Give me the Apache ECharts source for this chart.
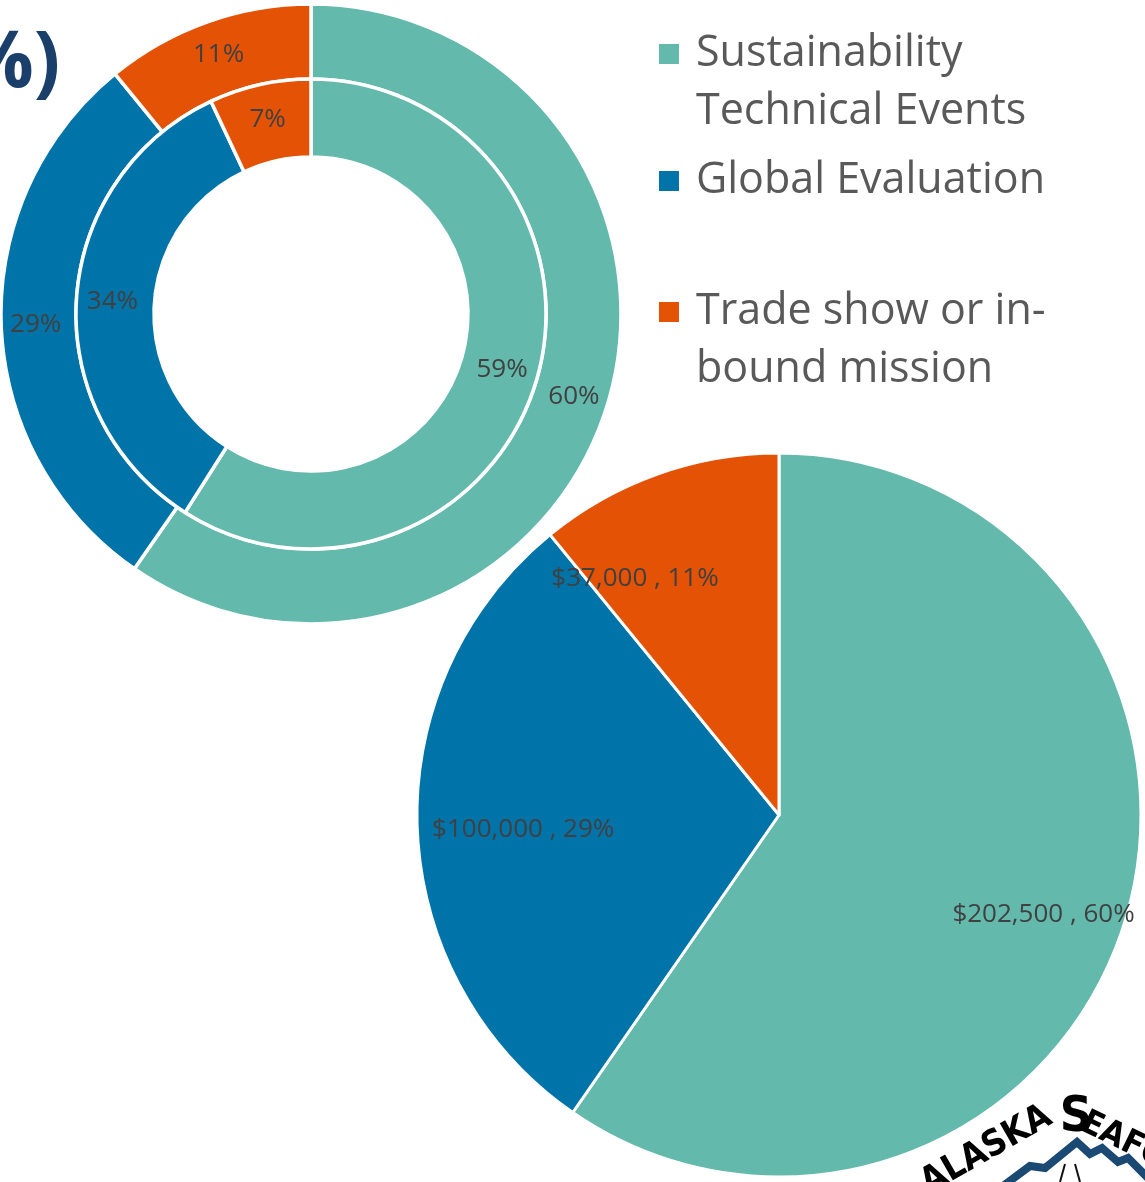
<!DOCTYPE html>
<html>
<head>
<meta charset="utf-8">
<script src="https://cdn.jsdelivr.net/npm/echarts@6/dist/echarts.min.js"></script>
<style>
  html, body { margin: 0; padding: 0; background: #ffffff; }
  #chart { width: 1145px; height: 1182px; }
</style>
</head>
<body>
<div id="chart"></div>
<script>
// Budget categories and their wrapped legend text
const categories = ['Sustainability Technical Events', 'Global Evaluation', 'Trade show or in-bound mission'];
const legendLabels = ['Sustainability\nTechnical Events', 'Global Evaluation', 'Trade show or in-\nbound mission'];
// Dollar amounts (outer ring and the large pie)
const budgetDollars = [202500, 100000, 37000];
// Share of the inner ring, in percent
const innerRingPercent = [59, 34, 7];
const sliceColors = ['#64B9AD', '#0073A9', '#E35205'];

const FONT = 'Open Sans';
const LABEL_COLOR = '#404040';

function toData(values) {
  return values.map((v, i) => ({ name: categories[i], value: v, itemStyle: { color: sliceColors[i] } }));
}

const pctLabel = {
  show: true,
  position: 'inside',
  formatter: p => Math.round(p.percent) + '%',
  color: LABEL_COLOR,
  fontFamily: FONT,
  fontSize: 26
};

const ringBorder = { borderColor: '#ffffff', borderWidth: 3.5 };
const pieBorder = { borderColor: '#ffffff', borderWidth: 3 };

// Legend square aligned with the first text line, followed by a wide gap
const iconTwoLine = 'path://M0,18h22v22h-22z M0,0h0.01v0.01z M33,116h0.01v0.01z';
const iconOneLine = 'path://M0,0h22v22h-22z M33,22h0.01v0.01z';

function legendFor(idx, top, twoLine) {
  return {
    data: [{ name: categories[idx], icon: twoLine ? iconTwoLine : iconOneLine }],
    orient: 'vertical',
    left: 657,
    top: top,
    padding: 0,
    itemWidth: 33,
    itemHeight: twoLine ? 116 : 22,
    formatter: name => legendLabels[categories.indexOf(name)],
    textStyle: { fontFamily: FONT, fontSize: 43, color: '#595959', lineHeight: 58 }
  };
}

// Labels for the large pie: same values, no fill of their own
const labelNudges = [[3, 18], [18, 4], [-52, 22]];
const bigPieLabels = budgetDollars.map((v, i) => ({
  name: categories[i],
  value: v,
  label: { offset: labelNudges[i] }
}));

const option = {
  animation: false,
  title: {
    text: '(%)',
    left: -63,
    top: 26,
    padding: 0,
    textStyle: { fontFamily: FONT, fontSize: 78, fontWeight: 'bold', color: '#1B3F6B' }
  },
  legend: [
    legendFor(0, 24, true),
    legendFor(1, 152, false),
    legendFor(2, 282, true)
  ],
  series: [
    {
      name: 'Outer ring',
      type: 'pie',
      center: [311, 314],
      radius: [235, 310],
      startAngle: 90,
      clockwise: true,
      data: toData(budgetDollars),
      itemStyle: ringBorder,
      label: pctLabel,
      labelLine: { show: false },
      emphasis: { disabled: true }
    },
    {
      name: 'Inner ring',
      type: 'pie',
      center: [311, 314],
      radius: [157, 235],
      startAngle: 90,
      clockwise: true,
      data: toData(innerRingPercent),
      itemStyle: ringBorder,
      label: pctLabel,
      labelLine: { show: false },
      emphasis: { disabled: true }
    },
    {
      name: 'Budget',
      type: 'pie',
      center: [779, 815],
      radius: [0, 362],
      startAngle: 90,
      clockwise: true,
      data: toData(budgetDollars),
      itemStyle: pieBorder,
      label: { show: false },
      labelLine: { show: false },
      emphasis: { disabled: true }
    },
    {
      // Value labels for the large pie, placed at three quarters of its radius
      name: 'Budget labels',
      type: 'pie',
      center: [779, 815],
      radius: [180, 362],
      startAngle: 90,
      clockwise: true,
      silent: true,
      z: 5,
      data: bigPieLabels,
      itemStyle: { color: 'rgba(0,0,0,0)', borderWidth: 0 },
      label: {
        show: true,
        position: 'inside',
        formatter: p => '$' + p.value.toLocaleString('en-US') + ' , ' + Math.round(p.percent) + '%',
        color: LABEL_COLOR,
        fontFamily: FONT,
        fontSize: 26
      },
      labelLine: { show: false },
      emphasis: { disabled: true }
    }
  ],
  graphic: [
    {
      type: 'polyline',
      shape: { points: [[995, 1192], [1030, 1166], [1045, 1168], [1077, 1142], [1090, 1154], [1102, 1148], [1118, 1162], [1128, 1158], [1150, 1180]] },
      style: { stroke: '#1A4A73', lineWidth: 8, fill: null, lineJoin: 'miter' }
    },
    {
      type: 'polyline',
      shape: { points: [[1060, 1182], [1065, 1164]] },
      style: { stroke: '#111111', lineWidth: 2, fill: null }
    },
    {
      type: 'polyline',
      shape: { points: [[1080, 1182], [1075, 1164]] },
      style: { stroke: '#111111', lineWidth: 2, fill: null }
    },
    {
      type: 'text',
      x: 1058, y: 1130,
      rotation: 0.52,
      style: { text: 'ALASKA', align: 'right', verticalAlign: 'bottom', font: 'bold 36px "DejaVu Sans Condensed"', fill: '#000000' }
    },
    {
      type: 'text',
      x: 1076, y: 1143,
      style: { text: 'S', align: 'center', verticalAlign: 'bottom', font: 'bold 50px "DejaVu Sans Condensed"', fill: '#000000' }
    },
    {
      type: 'text',
      x: 1090, y: 1106,
      rotation: -0.45,
      style: { text: 'EAFOOD', align: 'left', verticalAlign: 'top', font: 'bold 34px "DejaVu Sans Condensed"', fill: '#000000' }
    }
  ]
};

const chart = echarts.init(document.getElementById('chart'), null, { renderer: 'canvas' });
chart.setOption(option);
</script>
</body>
</html>
